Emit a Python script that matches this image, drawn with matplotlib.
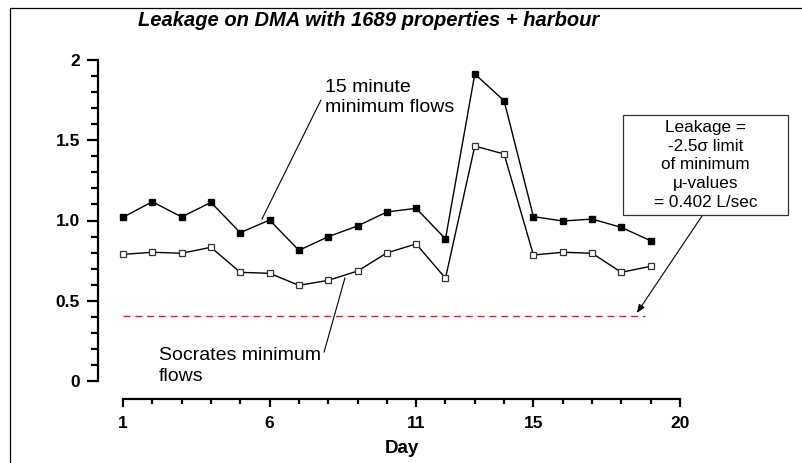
import numpy as np
import matplotlib
matplotlib.use("Agg")
import matplotlib.pyplot as plt
from matplotlib.patches import Rectangle
from matplotlib.ticker import FixedLocator, FixedFormatter, AutoMinorLocator, MultipleLocator

plt.rcParams['font.family'] = ['Liberation Sans', 'DejaVu Sans']

days = np.arange(1, 20)
minimum_15 = [1.02, 1.117, 1.022, 1.113, 0.924, 1.003, 0.814, 0.899, 0.966, 1.053,
              1.076, 0.885, 1.913, 1.746, 1.024, 0.997, 1.009, 0.957, 0.874]
socrates_min = [0.789, 0.802, 0.796, 0.833, 0.677, 0.671, 0.596, 0.627, 0.685, 0.798,
                0.854, 0.640, 1.464, 1.414, 0.785, 0.802, 0.796, 0.677, 0.715]
leakage_limit = 0.402
limit_end = 18.82

y_ticks = [0, 0.5, 1.0, 1.5, 2]
y_labels = ["0", "0.5", "1.0", "1.5", "2"]
x_ticks = [1, 6, 11, 15, 20]

W, H = 803, 463
fig = plt.figure(figsize=(W / 100, H / 100), dpi=100)
ax = fig.add_axes([123 / W, 1 - 381 / H, (680 - 123) / W, (381 - 60) / H])

# frame round the whole chart, running off the right and bottom edges
fig.patches.append(Rectangle((10 / W, -0.2), 1.2, 0.2 + 1 - 8 / H, transform=fig.transFigure,
                             fill=False, edgecolor="black", linewidth=0.9))

ax.plot(days, minimum_15, color="black", linewidth=1, marker="s", markersize=5,
        markerfacecolor="black", markeredgecolor="black", clip_on=False, zorder=3)
ax.plot(days, socrates_min, color="black", linewidth=1, marker="s", markersize=5,
        markerfacecolor="white", markeredgecolor="#333333", markeredgewidth=0.9,
        clip_on=False, zorder=3)
ax.plot([1, limit_end], [leakage_limit, leakage_limit], color="#e41e24", linewidth=1,
        linestyle=(0, (5, 3.5)), zorder=2)

ax.set_xlim(1, 20)
ax.set_ylim(0, 2)

for s in ["top", "right"]:
    ax.spines[s].set_visible(False)
ax.spines["left"].set_position(("outward", 18))
ax.spines["bottom"].set_position(("outward", 13))
ax.spines["left"].set_linewidth(1.6)
ax.spines["bottom"].set_linewidth(1.6)

ax.yaxis.set_major_locator(FixedLocator(y_ticks))
ax.yaxis.set_major_formatter(FixedFormatter(y_labels))
ax.yaxis.set_minor_locator(MultipleLocator(0.1))
ax.xaxis.set_major_locator(FixedLocator(x_ticks))
ax.xaxis.set_minor_locator(AutoMinorLocator(5))

ax.tick_params(axis="y", which="major", length=8, width=1.6, direction="out", pad=5)
ax.tick_params(axis="y", which="minor", length=5, width=1.6, direction="out")
ax.tick_params(axis="x", which="major", length=6, width=1.6, direction="out", pad=6.5)
ax.tick_params(axis="x", which="minor", length=3.5, width=1.6, direction="out")
for lab in ax.get_xticklabels() + ax.get_yticklabels():
    lab.set_fontweight("bold")
    lab.set_fontsize(12.5)

ax.set_xlabel("Day", fontsize=13.5, fontweight="bold", labelpad=6)
fig.text(369 / W, 1 - 20 / H, "Leakage on DMA with 1689 properties + harbour", ha="center",
         va="center", fontsize=14.5, fontweight="bold", fontstyle="italic")

# annotations
ax.text(7.9, 1.766, "15 minute\nminimum flows", fontsize=14, ha="left", va="center",
        linespacing=1.2)
ax.plot([5.74, 7.75], [1.009, 1.75], color="black", linewidth=0.8)

ax.text(2.23, 0.0935, "Socrates minimum\nflows", fontsize=14, ha="left", va="center",
        linespacing=1.25)
ax.plot([7.86, 8.57], [0.181, 0.642], color="black", linewidth=0.8)

ax.add_patch(Rectangle((18.06, 1.034), 23.68 - 18.06, 1.657 - 1.034, facecolor="white",
                       edgecolor="#333333", linewidth=0.9, clip_on=False, zorder=4))
ax.text(20.87, 1.346, "Leakage =\n-2.5\u03c3 limit\nof minimum\n\u03bc-values\n= 0.402 L/sec",
        fontsize=12.3, ha="center", va="center", linespacing=1.3, zorder=5, clip_on=False)
ax.annotate("", xy=(18.53, 0.424), xytext=(20.75, 1.028),
            arrowprops=dict(arrowstyle="-|>,head_length=0.5,head_width=0.2", color="black",
                            linewidth=0.8, shrinkA=0, shrinkB=0),
            annotation_clip=False)

fig.savefig("out.png", dpi=100)
